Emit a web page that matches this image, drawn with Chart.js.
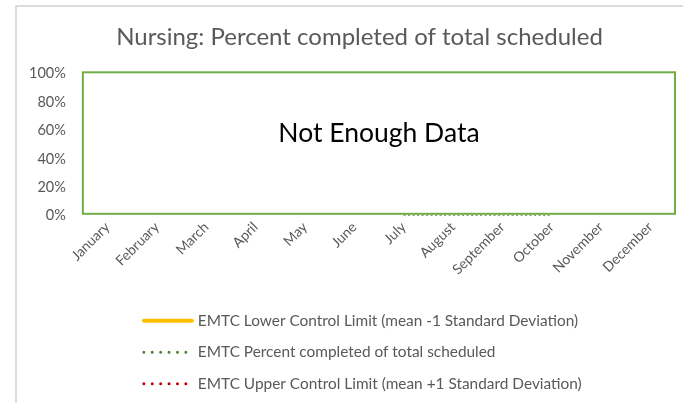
<!DOCTYPE html>
<html>
<head>
<meta charset="utf-8">
<script src="https://cdn.jsdelivr.net/npm/chart.js@4.4.1/dist/chart.umd.min.js"></script>
<style>
  html, body { margin: 0; padding: 0; background: #fff; }
  body { width: 683px; height: 403px; position: relative; overflow: hidden; }
  #frame { position: absolute; left: 15px; top: 5px; width: 720px; height: 440px; border: 2px solid #dcdcdc; box-sizing: border-box; }
  #chart { position: absolute; left: 0; top: 0; }
</style>
</head>
<body>
<div id="frame"></div>
<canvas id="chart" width="683" height="403"></canvas>
<script>
// data
const months = ['January', 'February', 'March', 'April', 'May', 'June',
                'July', 'August', 'September', 'October', 'November', 'December'];
const yTickValues = [0, 0.2, 0.4, 0.6, 0.8, 1];
const lowerLimit = [null, null, null, null, null, null, null, null, null, null, null, null];
const percentCompleted = [null, null, null, null, null, null, 0, 0, 0, 0, null, null];
const upperLimit = [null, null, null, null, null, null, null, null, null, null, null, null];

const FONT = 'Lato, "Open Sans", sans-serif';
const GREY = '#595959';

// 1. Geser judul sedikit ke kanan (seperti di Excel)
const titleShift = {
    id: 'titleShift',
    afterLayout(chart) {
        const t = chart.titleBlock;
        if (t) { t.left += 16; t.right += 16; }
    }
};

// 2. Kotak "Not Enough Data" di atas area plot
const noDataBox = {
    id: 'noDataBox',
    afterDatasetsDraw(chart) {
        const { ctx, chartArea } = chart;
        const top = chartArea.top - 1.5;
        const bottom = chartArea.bottom - 2;
        ctx.save();
        ctx.strokeStyle = '#70AD47';
        ctx.lineWidth = 2;
        ctx.strokeRect(chartArea.left, top, chartArea.right - chartArea.left, bottom - top);
        ctx.fillStyle = '#000';
        ctx.font = '26.5px ' + FONT;
        ctx.textAlign = 'center';
        ctx.textBaseline = 'middle';
        ctx.fillText('Not Enough Data', (chartArea.left + chartArea.right) / 2, top + (bottom - top) * 0.43);
        ctx.restore();
    }
};

// 3. Legend manual (satu baris per seri, rata kiri)
const stackedLegend = {
    id: 'stackedLegend',
    afterDraw(chart) {
        const { ctx, chartArea } = chart;
        const x0 = chartArea.left + 60;
        ctx.save();
        ctx.font = '15.4px ' + FONT;
        ctx.textBaseline = 'middle';
        chart.data.datasets.forEach((ds, i) => {
            const y = chartArea.bottom + 105 + i * 31.5;
            ctx.beginPath();
            ctx.strokeStyle = ds.borderColor;
            ctx.lineCap = 'round';
            if (ds.borderDash && ds.borderDash.length) {
                ctx.lineWidth = 3;
                ctx.setLineDash([0, 8.4]);
                ctx.moveTo(x0 + 1, y);
                ctx.lineTo(x0 + 44, y);
            } else {
                ctx.lineWidth = 4;
                ctx.setLineDash([]);
                ctx.moveTo(x0 + 1, y);
                ctx.lineTo(x0 + 49, y);
            }
            ctx.stroke();
            ctx.fillStyle = GREY;
            ctx.fillText(ds.label, x0 + 55, y);
        });
        ctx.restore();
    }
};

new Chart(document.getElementById('chart'), {
    type: 'line',
    data: {
        labels: months,
        datasets: [
            {
                label: 'EMTC Lower Control Limit (mean -1 Standard Deviation)',
                data: lowerLimit,
                borderColor: '#FFC000',
                borderWidth: 3,
                pointRadius: 0
            },
            {
                label: 'EMTC Percent completed of total scheduled',
                data: percentCompleted,
                borderColor: '#548235',
                borderWidth: 2,
                borderDash: [2, 2.5],
                pointRadius: 0
            },
            {
                label: 'EMTC Upper Control Limit (mean +1 Standard Deviation)',
                data: upperLimit,
                borderColor: '#C00000',
                borderWidth: 2,
                borderDash: [2, 2.5],
                pointRadius: 0
            }
        ]
    },
    options: {
        responsive: false,
        animation: false,
        layout: { padding: { left: 12, right: 8, top: 23, bottom: 122 } },
        plugins: {
            legend: { display: false },
            tooltip: { enabled: false },
            title: {
                display: true,
                text: 'Nursing: Percent completed of total scheduled',
                color: GREY,
                font: { family: FONT, size: 24, weight: 'normal' },
                padding: { top: 0, bottom: 22 }
            }
        },
        scales: {
            x: {
                offset: true,
                grid: { display: false, drawTicks: false },
                border: { display: false },
                ticks: {
                    color: GREY,
                    font: { family: FONT, size: 14 },
                    minRotation: 45,
                    maxRotation: 45,
                    padding: 3
                }
            },
            y: {
                min: 0,
                max: 1,
                grid: { display: false, drawTicks: false },
                border: { display: false },
                afterBuildTicks: scale => { scale.ticks = yTickValues.map(v => ({ value: v })); },
                ticks: {
                    color: GREY,
                    font: { family: FONT, size: 14.5 },
                    padding: 17,
                    callback: v => Math.round(v * 100) + '%'
                }
            }
        }
    },
    plugins: [titleShift, noDataBox, stackedLegend]
});
</script>
</body>
</html>
